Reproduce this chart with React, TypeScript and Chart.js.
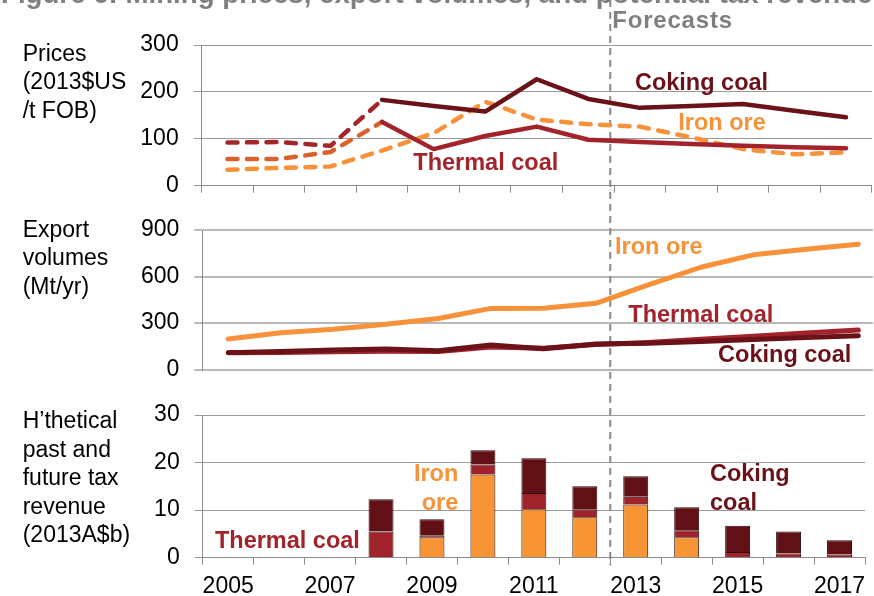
import React, { useEffect, useRef } from 'react';
import { Chart, registerables } from 'chart.js';

Chart.register(...registerables);

const FONT = '"Liberation Sans", Arial, Helvetica, sans-serif';
Chart.defaults.font.family = FONT;

// ---------- data ----------
const YEARS = ['2005', '2006', '2007', '2008', '2009', '2010', '2011', '2012', '2013', '2014', '2015', '2016', '2017'];
const SHOWN_YEARS = ['2005', '2007', '2009', '2011', '2013', '2015', '2017'];
const FORECAST_FIRST_YEAR = '2013';
const HISTORY_LAST_YEAR = '2008';

const TITLE = 'Figure 6: Mining prices, export volumes, and potential tax revenue';
const FORECAST_LABEL = 'Forecasts';

// Prices (2013 US$/t FOB)
const PRICE_COKING = [92, 93, 85, 183, 170, 158, 227, 185, 166, 170, 174, 160, 146];
const PRICE_THERMAL = [57, 57, 72, 136, 78, 106, 126, 98, 93, 89, 85, 82, 80];
const PRICE_IRON = [34, 38, 41, 75, 112, 179, 141, 131, 126, 103, 78, 67, 71];
const PRICE_TICKS = { min: 0, max: 300, step: 100 };

// Export volumes (Mt/yr)
const VOL_IRON = [198, 238, 261, 293, 330, 395, 396, 428, 546, 660, 740, 776, 808];
const VOL_THERMAL = [110, 111, 115, 119, 118, 146, 138, 162, 176, 196, 216, 236, 255];
const VOL_COKING = [110, 118, 127, 133, 122, 159, 135, 165, 170, 182, 194, 207, 219];
const VOL_TICKS = { min: 0, max: 900, step: 300 };

// Hypothetical tax revenue (2013 A$b)
const TAX_IRON = [null, null, null, 0, 4.3, 17.5, 10.2, 8.5, 11.2, 4.3, 0, 0, 0];
const TAX_THERMAL = [null, null, null, 5.5, 0.3, 2.1, 3.4, 1.7, 1.6, 1.45, 1.2, 0.9, 0.65];
const TAX_COKING = [null, null, null, 6.8, 3.5, 3.0, 7.3, 4.8, 4.3, 4.85, 5.5, 4.6, 3.0];
const TAX_TICKS = { min: 0, max: 30, step: 10 };

const PRICE_TITLE = ['Prices', '(2013$US', '/t FOB)'];
const VOL_TITLE = ['Export', 'volumes', '(Mt/yr)'];
const TAX_TITLE = ['H\u2019thetical', 'past and', 'future tax', 'revenue', '(2013A$b)'];

// ---------- styles ----------
const C_COKING = '#6a1218';
const C_COKING_HIST = '#a3262b';
const C_THERMAL = '#a2232b';
const C_THERMAL_HIST = '#d8622c';
const C_IRON = '#f7923a';
const C_BAR_IRON = '#f79433';
const C_BAR_THERMAL = '#a0222a';
const C_BAR_COKING = '#611015';
const C_GRID = '#999999';
const C_AXIS = '#8c8c8c';
const C_FORECAST = '#8a8a8a';
const DASH = [10, 9.5];

type Label = { lines: string[]; x: number; y: number; color: string; align: CanvasTextAlign };

const PRICE_LABELS: Label[] = [
  { lines: ['Coking coal'], x: 7.905, y: 204, color: C_COKING, align: 'left' },
  { lines: ['Iron ore'], x: 8.745, y: 119, color: C_IRON, align: 'left' },
  { lines: ['Thermal coal'], x: 3.605, y: 33.5, color: C_THERMAL, align: 'left' },
];
const VOL_LABELS: Label[] = [
  { lines: ['Iron ore'], x: 7.366, y: 745, color: C_IRON, align: 'left' },
  { lines: ['Thermal coal'], x: 7.62, y: 309, color: C_THERMAL, align: 'left' },
  { lines: ['Coking coal'], x: 9.33, y: 51.5, color: C_COKING, align: 'left' },
];
const TAX_LABELS: Label[] = [
  { lines: ['Thermal coal'], x: -0.26, y: 2.0, color: C_THERMAL, align: 'left' },
  { lines: ['Iron', 'ore'], x: 4.517, y: 16.1, color: C_IRON, align: 'right' },
  { lines: ['Coking', 'coal'], x: 9.457, y: 16.1, color: C_COKING, align: 'left' },
];

const LINE_H = 28.4;

function labelPlugin(id: string, labels: Label[]) {
  return {
    id,
    afterDatasetsDraw(chart: any) {
      const { ctx, scales } = chart;
      ctx.save();
      ctx.font = `bold 23.5px ${FONT}`;
      ctx.textBaseline = 'alphabetic';
      for (const l of labels) {
        const px = scales.x.getPixelForValue(l.x);
        const py = scales.y.getPixelForValue(l.y);
        ctx.fillStyle = l.color;
        ctx.textAlign = l.align;
        l.lines.forEach((t, k) => ctx.fillText(t, px, py + k * LINE_H));
      }
      ctx.restore();
    },
  };
}

function sideTitlePlugin(id: string, lines: string[], firstOffset: number) {
  return {
    id,
    afterDraw(chart: any) {
      const { ctx, chartArea } = chart;
      ctx.save();
      ctx.font = `23px ${FONT}`;
      ctx.fillStyle = '#000';
      ctx.textAlign = 'left';
      ctx.textBaseline = 'alphabetic';
      lines.forEach((t, k) => ctx.fillText(t, 22.7, chartArea.top + firstOffset + k * LINE_H));
      ctx.restore();
    },
  };
}

function forecastPlugin(id: string, getX: (chart: any) => number, pageTop: number, endAtAxis: boolean) {
  return {
    id,
    beforeDatasetsDraw(chart: any) {
      const { ctx, chartArea } = chart;
      const x = getX(chart);
      ctx.save();
      ctx.strokeStyle = C_FORECAST;
      ctx.lineWidth = 2;
      ctx.setLineDash([7, 5]);
      ctx.lineDashOffset = pageTop;
      ctx.beginPath();
      ctx.moveTo(x, 0);
      ctx.lineTo(x, endAtAxis ? chartArea.bottom + 7.5 : chart.height);
      ctx.stroke();
      ctx.restore();
    },
  };
}

function headerPlugin(getX: () => number) {
  return {
    id: 'header',
    afterDraw(chart: any) {
      const { ctx } = chart;
      ctx.save();
      ctx.fillStyle = '#7f7f7f';
      ctx.textBaseline = 'alphabetic';
      ctx.textAlign = 'left';
      ctx.font = `bold 24px ${FONT}`;
      const w = ctx.measureText(TITLE).width;
      const size = (24 * 872) / w;
      ctx.font = `bold ${size}px ${FONT}`;
      ctx.fillText(TITLE, 1, 3);
      ctx.font = `bold 24px ${FONT}`;
      try {
        (ctx as any).letterSpacing = '0.8px';
      } catch (e) {
        /* ignore */
      }
      ctx.fillText(FORECAST_LABEL, getX() + 2, 28);
      ctx.restore();
    },
  };
}

function yScale(t: { min: number; max: number; step: number }, width: number, gridColor: string, gridWidth: number) {
  return {
    min: t.min,
    max: t.max,
    ticks: { stepSize: t.step, color: '#000', font: { size: 23 }, padding: 15 },
    grid: { color: gridColor, lineWidth: gridWidth, tickLength: 8, tickColor: gridColor },
    border: { color: C_AXIS, width: 1 },
    afterFit(scale: any) {
      scale.width = width;
      scale.paddingTop = 0;
      scale.paddingBottom = 0;
    },
  };
}

const baseOptions = {
  responsive: false,
  animation: false as const,
  plugins: { legend: { display: false }, tooltip: { enabled: false } },
  elements: { point: { radius: 0 } },
};

export default function App() {
  const refA = useRef<HTMLCanvasElement>(null);
  const refB = useRef<HTMLCanvasElement>(null);
  const refC = useRef<HTMLCanvasElement>(null);

  useEffect(() => {
    const histIdx = YEARS.indexOf(HISTORY_LAST_YEAR);
    const forecastIdx = YEARS.indexOf(FORECAST_FIRST_YEAR) - 0.5;
    let forecastX = 0;

    // ----- tax revenue (bottom) -----
    const chartC = new Chart(refC.current!, {
      type: 'bar',
      data: {
        labels: YEARS,
        datasets: [
          { label: 'Iron ore', data: TAX_IRON, backgroundColor: C_BAR_IRON },
          { label: 'Thermal coal', data: TAX_THERMAL, backgroundColor: C_BAR_THERMAL },
          { label: 'Coking coal', data: TAX_COKING, backgroundColor: C_BAR_COKING },
        ].map((d) => ({ ...d, borderColor: '#2a0a0a', borderWidth: 1, barPercentage: 0.49, categoryPercentage: 1 })),
      },
      options: {
        ...baseOptions,
        layout: { padding: { left: 0, right: 9, top: 23, bottom: 0 } },
        scales: {
          x: {
            stacked: true,
            offset: true,
            grid: { display: true, drawOnChartArea: false, drawTicks: true, tickLength: 7, offset: true, color: C_AXIS },
            border: { color: C_AXIS },
            ticks: {
              autoSkip: false,
              maxRotation: 0,
              color: '#000',
              font: { size: 23 },
              padding: 8,
              callback: (_v: any, i: number) => (SHOWN_YEARS.includes(YEARS[i]) ? YEARS[i] : ''),
            },
            afterFit(scale: any) {
              scale.height = 38.3;
            },
          },
          y: { ...yScale(TAX_TICKS, 202.7, C_GRID, 1), stacked: true },
        },
      } as any,
      plugins: [
        forecastPlugin('fcC', (ch) => ch.scales.x.getPixelForValue(forecastIdx), 392, true),
        sideTitlePlugin('stC', TAX_TITLE, 13.3),
        labelPlugin('lbC', TAX_LABELS),
      ],
    });
    forecastX = chartC.scales.x.getPixelForValue(forecastIdx);

    // ----- prices (top) -----
    const hist = (histColor: string) => ({
      borderColor: (c: any) => (c.p1DataIndex <= histIdx ? histColor : undefined),
      borderDash: (c: any) => (c.p1DataIndex <= histIdx ? DASH : undefined),
    });
    const lineStyle = { borderWidth: 4.5, borderCapStyle: 'round', borderJoinStyle: 'round', tension: 0, fill: false };
    const chartA = new Chart(refA.current!, {
      type: 'line',
      data: {
        labels: YEARS,
        datasets: [
          { label: 'Coking coal', data: PRICE_COKING, borderColor: C_COKING, segment: hist(C_COKING_HIST), order: 0, ...lineStyle },
          { label: 'Thermal coal', data: PRICE_THERMAL, borderColor: C_THERMAL, segment: hist(C_THERMAL_HIST), order: 1, ...lineStyle },
          { label: 'Iron ore', data: PRICE_IRON, borderColor: C_IRON, borderDash: DASH, order: 2, ...lineStyle },
        ],
      },
      options: {
        ...baseOptions,
        layout: { padding: { left: 0, right: 2.2, top: 45, bottom: 4.3 } },
        scales: {
          x: {
            offset: true,
            grid: { display: true, drawOnChartArea: false, drawTicks: true, tickLength: 7, offset: true, color: C_AXIS },
            border: { color: C_AXIS },
            ticks: { display: false },
            afterFit(scale: any) {
              scale.height = 10;
            },
          },
          y: yScale(PRICE_TICKS, 201.7, C_GRID, 1),
        },
      } as any,
      plugins: [
        forecastPlugin('fcA', () => forecastX, 0, false),
        sideTitlePlugin('stA', PRICE_TITLE, 15.7),
        labelPlugin('lbA', PRICE_LABELS),
        headerPlugin(() => forecastX),
      ],
    });

    // ----- export volumes (middle) -----
    const pts = (arr: number[]) => arr.map((v, i) => ({ x: i, y: v }));
    const volLine = { borderWidth: 5, borderCapStyle: 'round', borderJoinStyle: 'round', tension: 0, fill: false };
    const chartB = new Chart(refB.current!, {
      type: 'line',
      data: {
        datasets: [
          { label: 'Coking coal', data: pts(VOL_COKING), borderColor: C_COKING, order: 0, ...volLine },
          { label: 'Thermal coal', data: pts(VOL_THERMAL), borderColor: C_THERMAL, order: 1, ...volLine },
          { label: 'Iron ore', data: pts(VOL_IRON), borderColor: C_IRON, order: 2, ...volLine },
        ],
      },
      options: {
        ...baseOptions,
        layout: { padding: { left: 0, right: 1, top: 30, bottom: 22.3 } },
        scales: {
          x: { type: 'linear', display: false, min: -0.495, max: 12.28 },
          y: yScale(VOL_TICKS, 202.3, '#b8b8b8', 2),
        },
      } as any,
      plugins: [
        forecastPlugin('fcB', () => forecastX, 200, false),
        sideTitlePlugin('stB', VOL_TITLE, 6.7),
        labelPlugin('lbB', VOL_LABELS),
      ],
    });

    return () => {
      chartA.destroy();
      chartB.destroy();
      chartC.destroy();
    };
  }, []);

  const cs = (top: number, h: number): React.CSSProperties => ({
    position: 'absolute',
    left: 0,
    top,
    width: 874,
    height: h,
    display: 'block',
  });

  return (
    <div style={{ position: 'fixed', left: 0, top: 0, width: 874, height: 596, background: '#fff', overflow: 'hidden' }}>
      <canvas ref={refA} width={874} height={200} style={cs(0, 200)} />
      <canvas ref={refB} width={874} height={192} style={cs(200, 192)} />
      <canvas ref={refC} width={874} height={204} style={cs(392, 204)} />
    </div>
  );
}
